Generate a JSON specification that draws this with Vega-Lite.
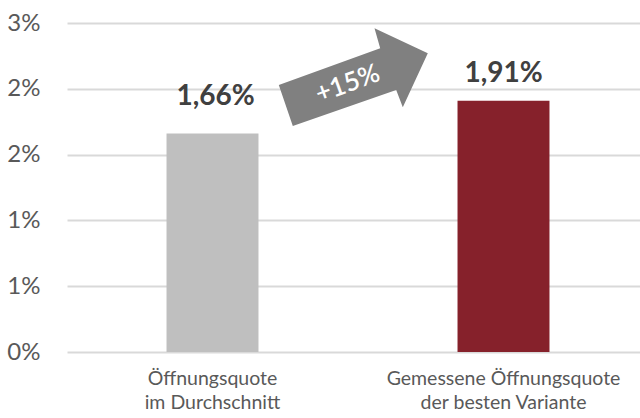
{
  "$schema": "https://vega.github.io/schema/vega-lite/v6.json",
  "width": 573,
  "height": 329,
  "autosize": {"type": "none"},
  "padding": {"left": 67, "top": 23, "right": 0, "bottom": 66},
  "background": "#ffffff",
  "config": {
    "view": {"stroke": null},
    "font": "Lato"
  },
  "datasets": {
    "bars": [
      {"kategorie": "Öffnungsquote\nim Durchschnitt", "wert": 1.66, "label": "1,66%", "gruppe": "avg"},
      {"kategorie": "Gemessene Öffnungsquote\nder besten Variante", "wert": 1.91, "label": "1,91%", "gruppe": "best"}
    ],
    "pfeil": [
      {"px": 0.5, "py": 2.09, "ptx": 0.49, "pty": 2.037, "text": "+15%"}
    ]
  },
  "layer": [
    {
      "data": {"name": "bars"},
      "encoding": {
        "x": {
          "field": "kategorie",
          "type": "nominal",
          "sort": null,
          "scale": {"range": [0, 582], "paddingInner": 0.684, "paddingOuter": 0.342},
          "axis": {
            "title": null,
            "labelAngle": 0,
            "domain": false,
            "ticks": false,
            "labelExpr": "split(datum.label, '\\n')",
            "labelFont": "Lato",
            "labelFontSize": 19.5,
            "labelLineHeight": 24,
            "labelLimit": 400,
            "labelColor": "#595959",
            "labelPadding": 17,
            "labelBaseline": "top"
          }
        },
        "y": {
          "field": "wert",
          "type": "quantitative",
          "scale": {"domain": [0, 2.5], "nice": false, "zero": true},
          "axis": {
            "title": null,
            "values": [0, 0.5, 1, 1.5, 2, 2.5],
            "labelExpr": "round(datum.value) + '%'",
            "domain": false,
            "ticks": false,
            "grid": true,
            "gridColor": "#d9d9d9",
            "gridWidth": 2,
            "labelFont": "Lato",
            "labelFontSize": 24,
            "labelColor": "#595959",
            "labelPadding": 27
          }
        }
      },
      "layer": [
        {
          "mark": {"type": "bar"},
          "encoding": {
            "color": {
              "field": "gruppe",
              "type": "nominal",
              "scale": {"domain": ["avg", "best"], "range": ["#bfbfbf", "#86212b"]},
              "legend": null
            }
          }
        },
        {
          "transform": [{"filter": "datum.gruppe == 'avg'"}],
          "mark": {"type": "text", "baseline": "alphabetic", "dy": -29, "dx": 3, "font": "Lato", "fontSize": 28, "fontWeight": "bold", "color": "#404040"},
          "encoding": {"text": {"field": "label"}}
        },
        {
          "transform": [{"filter": "datum.gruppe == 'best'"}],
          "mark": {"type": "text", "baseline": "alphabetic", "dy": -19, "font": "Lato", "fontSize": 28, "fontWeight": "bold", "color": "#404040"},
          "encoding": {"text": {"field": "label"}}
        }
      ]
    },
    {
      "data": {"name": "pfeil"},
      "layer": [
        {
          "mark": {
            "type": "point",
            "shape": "M-0.747,0.08L0.267,-0.287L0.21,-0.487L0.743,-0.237L0.493,0.303L0.427,0.13L-0.607,0.49Z",
            "size": 40000,
            "filled": true,
            "color": "#808080",
            "opacity": 1,
            "strokeWidth": 0
          },
          "encoding": {
            "x": {"field": "px", "type": "quantitative", "scale": {"domain": [0, 1], "nice": false, "zero": false}, "axis": null},
            "y": {"field": "py", "type": "quantitative"}
          }
        },
        {
          "mark": {"type": "text", "angle": -20, "align": "center", "baseline": "middle", "font": "Lato", "fontSize": 26, "fontWeight": 600, "color": "#ffffff"},
          "encoding": {
            "x": {"field": "ptx", "type": "quantitative", "scale": {"domain": [0, 1], "nice": false, "zero": false}, "axis": null},
            "y": {"field": "pty", "type": "quantitative"},
            "text": {"field": "text"}
          }
        }
      ]
    }
  ],
  "resolve": {"scale": {"x": "independent"}, "axis": {"x": "independent"}}
}
